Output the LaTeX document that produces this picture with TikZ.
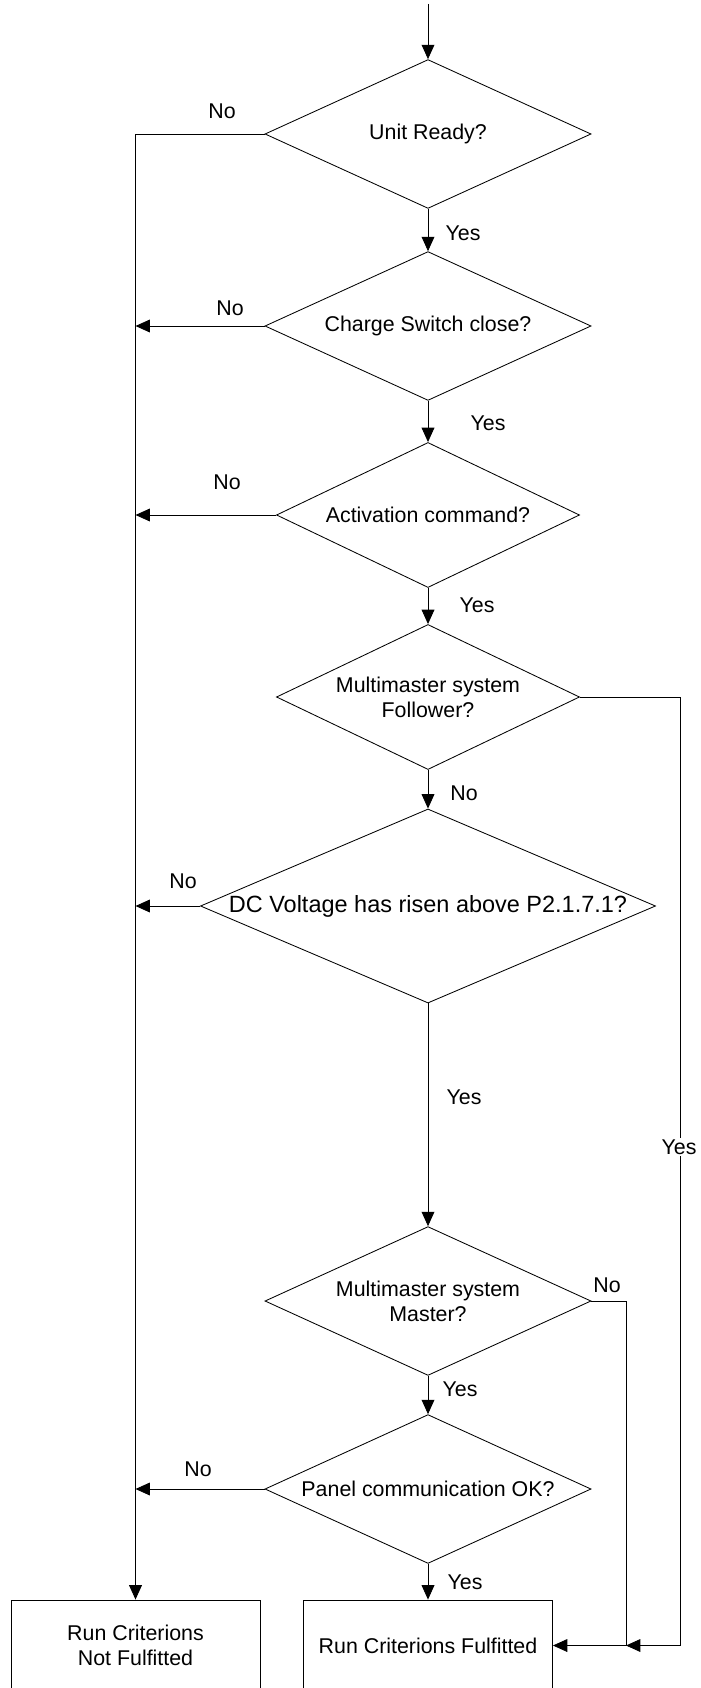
\documentclass[tikz,border=0pt]{standalone}
\usepackage{fontspec}
\setmainfont{Liberation Sans}
\usetikzlibrary{arrows.meta}
\usetikzlibrary{shapes.geometric}
\usetikzlibrary{positioning}

\begin{document}
\begin{tikzpicture}[x=0.025cm, y=-0.025cm, line width=0.6pt,
    font=\fontsize{15.2}{17.8}\selectfont,
    frage/.style={draw, diamond, inner sep=0pt, align=center,
        minimum width=8.15cm, minimum height=3.72cm, aspect=2.2},
    ergebnis/.style={draw, rectangle, align=center,
        minimum width=6.225cm, minimum height=2.275cm},
    pfeil/.style={-{Triangle[length=0.36cm, width=0.32cm]}}]

    % Rahmen festlegen
    \useasboundingbox (0,0) rectangle (700,1688);
    \clip (0,0) rectangle (700,1688);

    % Abfragen
    \node[frage] (d1) at (428,134) {Unit Ready?};
    \node[frage] (d2) at (428,326) {Charge Switch close?};
    \node[frage, minimum width=7.575cm, minimum height=3.625cm, aspect=2.1] (d3) at (428,515) {Activation command?};
    \node[frage, minimum width=7.575cm, minimum height=3.625cm, aspect=2.1] (d4) at (428,697) {Multimaster system\\Follower?};
    \node[frage, minimum width=11.375cm, minimum height=4.85cm, aspect=2.4,
        font=\fontsize{16.7}{19.5}\selectfont] (d5) at (428,906) {DC Voltage has risen above P2.1.7.1?};
    \node[frage] (d6) at (428,1301) {Multimaster system\\Master?};
    \node[frage] (d7) at (428,1489) {Panel communication OK?};

    % Ergebnisse
    \node[ergebnis] (nf) at (135.5,1645.5) {Run Criterions\\Not Fulfitted};
    \node[ergebnis] (ff) at (428,1645.5) {Run Criterions Fulfitted};

    % Einstieg und Ja-Kette
    \coordinate (start) at (428,4);
    \draw[pfeil] (start) -- (d1.north);
    \foreach \a/\b in {d1/d2, d2/d3, d3/d4, d4/d5, d5/d6, d6/d7, d7/ff} {
        \draw[pfeil] (\a.south) -- (\b.north);
    }

    % Nein-Zweige nach links
    \draw[pfeil] (d1.west) -| (nf.north);
    \foreach \d in {d2, d3, d5, d7} {
        \draw[pfeil] (\d.west) -- (\d.west -| nf.north);
    }

    % Zweige nach rechts
    \coordinate (sammel) at (626,1645.5);
    \draw[pfeil] (d6.east) -| (sammel) -- (ff.east);
    \draw[pfeil] (d4.east) -- ++(100,0) |- (sammel);

    % Beschriftungen
    \foreach \name/\x/\y/\beschr in {nein1/222/111/No, ja1/463/233/Yes, nein2/230/308/No,
        ja2/488/423/Yes, nein3/227/482/No, ja3/477/605/Yes, nein4/464/793/No,
        nein5/183/881/No, ja5/464/1097/Yes, nein6/607/1285/No, ja6/460/1389/Yes,
        nein7/198/1469/No, ja7/465/1582/Yes} {
        \node (\name) at (\x,\y) {\beschr};
    }
    \node[fill=white, inner sep=1pt] (ja4) at (679,1147) {Yes};
\end{tikzpicture}
\end{document}
